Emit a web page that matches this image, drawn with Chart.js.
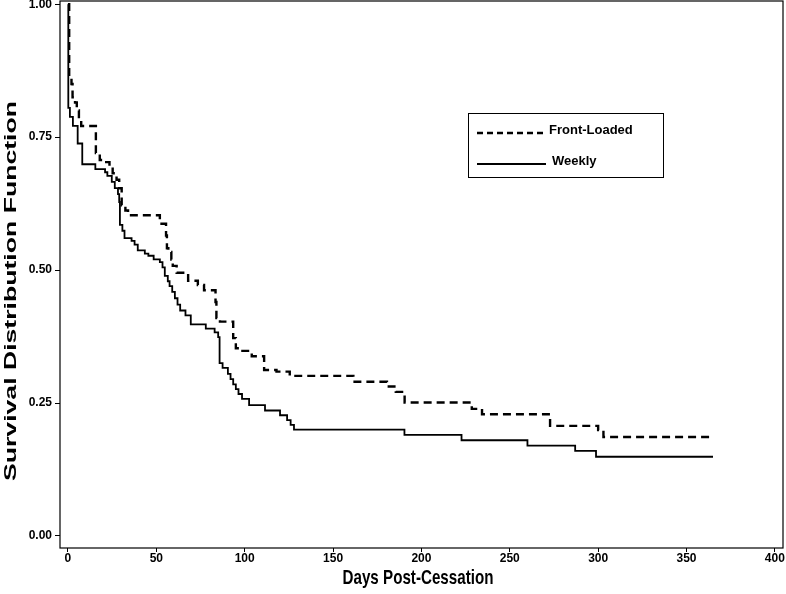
<!DOCTYPE html>
<html>
<head>
<meta charset="utf-8">
<script src="https://cdn.jsdelivr.net/npm/chart.js@4/dist/chart.umd.min.js"></script>
<style>
  html, body { margin: 0; padding: 0; background: #fff; }
  #wrap { width: 786px; height: 594px; }
</style>
</head>
<body>
<div id="wrap"><canvas id="survival-chart" width="786" height="594"></canvas></div>
<script>
// Kaplan-Meier steps: day of drop, survival after the drop
const frontDays = [0, 0.7, 2.0, 2.6, 4.0, 5.0, 6.2, 7.5, 15.8, 18.0, 20.5, 23.5, 25.3, 27.5, 29.0, 30.4, 32.5, 34.0,
	52.0, 55.5, 56.0, 56.8, 58.5, 59.3, 61.5, 68.0, 73.5, 77.0, 83.5, 84.0, 86.0, 93.5, 95.0, 97.3, 104.0,
	111.0, 118.0, 125.5, 161.5, 180.5, 185.5, 190.5, 228.5, 234.3, 272.8, 300.0, 303.0, 365.0];
const frontSurv = [1.0, 0.863, 0.850, 0.825, 0.815, 0.800, 0.785, 0.771, 0.720, 0.707, 0.703, 0.694, 0.682, 0.670, 0.654, 0.622, 0.612, 0.603,
	0.587, 0.565, 0.541, 0.534, 0.520, 0.508, 0.495, 0.480, 0.472, 0.462, 0.440, 0.410, 0.403, 0.372, 0.353, 0.348, 0.338,
	0.312, 0.309, 0.301, 0.290, 0.281, 0.271, 0.251, 0.239, 0.229, 0.207, 0.199, 0.186, 0.186];

const weeklyDays = [0, 0.2, 1.1, 2.8, 5.5, 8.1, 15.5, 21.0, 22.3, 24.8, 26.5, 28.3, 29.0, 29.4, 30.8, 32.0, 36.0, 37.7,
	39.5, 43.5, 45.5, 48.5, 52.0, 53.5, 54.8, 56.5, 57.5, 59.0, 60.5, 62.0, 63.5, 66.5, 69.5, 78.0, 83.0, 85.0,
	85.8, 87.5, 90.5, 92.0, 93.5, 95.0, 96.5, 98.5, 102.5, 111.5, 120.0, 124.0, 126.0, 127.9, 190.4, 222.7,
	260.0, 287.0, 298.8, 365.0];
const weeklySurv = [1.0, 0.805, 0.788, 0.771, 0.738, 0.699, 0.690, 0.684, 0.677, 0.666, 0.654, 0.643, 0.628, 0.585, 0.574, 0.560, 0.555, 0.548,
	0.537, 0.531, 0.527, 0.520, 0.515, 0.505, 0.489, 0.479, 0.470, 0.459, 0.447, 0.435, 0.424, 0.415, 0.398, 0.390, 0.383, 0.374,
	0.325, 0.316, 0.305, 0.295, 0.285, 0.276, 0.267, 0.258, 0.246, 0.236, 0.227, 0.218, 0.209, 0.200, 0.190, 0.180,
	0.170, 0.160, 0.149, 0.149];

const xTicks = [0, 50, 100, 150, 200, 250, 300, 350, 400];
const yTicks = [0, 0.25, 0.5, 0.75, 1.0];

const FONT = '"Liberation Sans", Arial, sans-serif';

function toPoints(days, surv) {
	return days.map((d, i) => ({ x: d, y: surv[i] }));
}

// stretched text: fit the text into a given length along its baseline
function fitText(ctx, text, cx, cy, angle, size, length, perp) {
	ctx.save();
	ctx.font = 'bold ' + size + 'px ' + FONT;
	const w = ctx.measureText(text).width;
	ctx.translate(cx, cy);
	ctx.rotate(angle);
	ctx.scale(length / w, perp);
	ctx.textAlign = 'center';
	ctx.textBaseline = 'middle';
	ctx.fillStyle = '#000';
	ctx.fillText(text, 0, 0);
	ctx.restore();
}

// no extra room for the outer tick labels, the frame fills the canvas
function noPad(s) {
	s.paddingTop = 0;
	s.paddingBottom = 0;
	s.paddingLeft = 0;
	s.paddingRight = 0;
}

const decorations = {
	id: 'decorations',
	afterDraw(chart) {
		const ctx = chart.ctx;
		const a = chart.chartArea;

		// plot frame
		ctx.save();
		ctx.strokeStyle = '#000';
		ctx.lineWidth = 1.2;
		ctx.strokeRect(a.left, a.top, a.right - a.left, a.bottom - a.top);
		ctx.restore();

		// axis titles
		fitText(ctx, 'Days Post-Cessation', 418, 579, 0, 15, 151, 1.3);
		fitText(ctx, 'Survival Distribution Function', 12, 291, -Math.PI / 2, 16, 380, 1.0);

		// legend box
		ctx.save();
		ctx.strokeStyle = '#000';
		ctx.lineWidth = 1;
		ctx.strokeRect(468.5, 113.5, 195, 64);
		const rows = [133, 164];
		chart.data.datasets.forEach((ds, i) => {
			const y = rows[i];
			ctx.beginPath();
			ctx.setLineDash(ds.borderDash && ds.borderDash.length ? [6, 4] : []);
			ctx.lineWidth = ds.borderWidth;
			ctx.moveTo(477, y);
			ctx.lineTo(546, y);
			ctx.stroke();
			ctx.setLineDash([]);
			ctx.font = 'bold 13px ' + FONT;
			ctx.fillStyle = '#000';
			ctx.textBaseline = 'alphabetic';
			ctx.fillText(ds.label, i === 0 ? 549 : 552, y + 1);
		});
		ctx.restore();
	}
};

const ctx = document.getElementById('survival-chart').getContext('2d');
const survivalChart = new Chart(ctx, {
	type: 'scatter',
	data: {
		datasets: [
			{
				label: 'Front-Loaded',
				data: toPoints(frontDays, frontSurv),
				showLine: true,
				stepped: true,
				borderColor: '#000',
				borderWidth: 2.4,
				borderDash: [8, 5],
				pointRadius: 0,
				fill: false
			},
			{
				label: 'Weekly',
				data: toPoints(weeklyDays, weeklySurv),
				showLine: true,
				stepped: true,
				borderColor: '#000',
				borderWidth: 1.8,
				pointRadius: 0,
				fill: false
			}
		]
	},
	options: {
		responsive: false,
		animation: false,
		layout: { padding: { top: 1, right: 3, left: 0, bottom: 0 } },
		plugins: {
			legend: { display: false },
			tooltip: { enabled: false }
		},
		scales: {
			x: {
				type: 'linear',
				min: -4.5,
				max: 404.6,
				afterBuildTicks: s => { s.ticks = xTicks.map(v => ({ value: v })); },
				afterFit: s => { s.height = 46; noPad(s); },
				grid: { drawOnChartArea: false, drawTicks: true, tickLength: 4, color: '#000' },
				border: { display: false },
				ticks: {
					color: '#000',
					padding: -1,
					maxRotation: 0,
					font: { family: FONT, size: 12, weight: 'bold' }
				}
			},
			y: {
				type: 'linear',
				min: -0.0226,
				max: 1.006,
				afterBuildTicks: s => { s.ticks = yTicks.map(v => ({ value: v })); },
				afterFit: s => { s.width = 60; noPad(s); },
				grid: { drawOnChartArea: false, drawTicks: true, tickLength: 5, color: '#000' },
				border: { display: false },
				ticks: {
					color: '#000',
					padding: 3,
					callback: v => v.toFixed(2),
					font: { family: FONT, size: 12, weight: 'bold' }
				}
			}
		}
	},
	plugins: [decorations]
});
</script>
</body>
</html>
